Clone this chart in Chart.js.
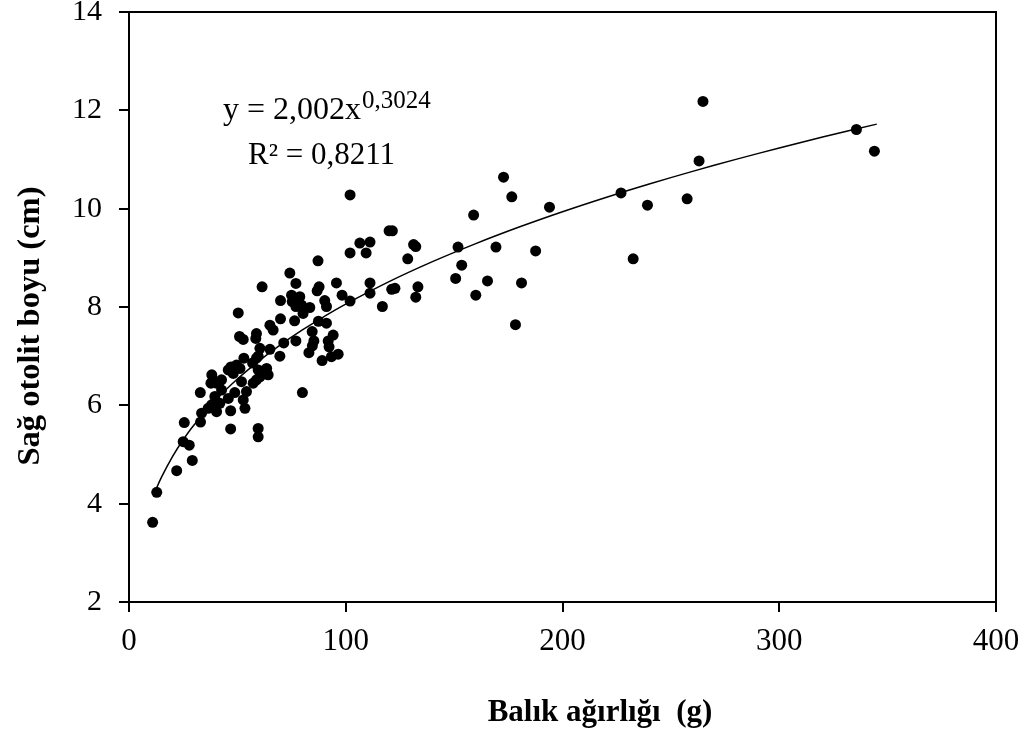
<!DOCTYPE html>
<html>
<head>
<meta charset="utf-8">
<script src="https://cdn.jsdelivr.net/npm/chart.js@4.4.1/dist/chart.umd.min.js"></script>
<style>
body { margin: 0; background: #fff; }
#wrap { width: 1026px; height: 739px; }
</style>
</head>
<body>
<div id="wrap"><canvas id="otolitChart"></canvas></div>
<script>
// balık ağırlığı (g) ve sağ otolit boyu (cm)
let weights = [10.9, 12.8, 22, 29.2, 25, 27.8, 25.5, 33, 33.5, 32.9,
	36.5, 38.1, 40.4, 39.6, 41.9, 38.2, 37.8, 40.4, 42.7, 38.8,
	42.7, 45.8, 49.6, 48.1, 51.2, 48.8, 51.9, 54.2, 52.7, 53.5,
	58.8, 59.6, 46.9, 46.9, 59.6, 59.6, 47, 45.8, 53, 57,
	63.5, 64.2, 60.4, 57.3, 80, 60.4, 59.6, 58.8, 65, 69.6,
	51, 52.7, 58.8, 58.5, 71.4, 50.4, 61.4, 65, 66.5, 69.9,
	76.4, 69.9, 74.2, 77, 75, 78.8, 75.3, 79.6, 77, 80.3,
	83.4, 90.3, 91.1, 87.2, 86.8, 87.7, 95.7, 98.3, 102, 102,
	102, 106.5, 111.2, 109.4, 120, 121.5, 131.3, 132.3, 128.6, 111.2,
	111.2, 121.2, 122.7, 133.3, 132.3, 116.9, 87.4, 91.1, 84.5, 77,
	85.3, 84.6, 94.2, 91.9, 92.3, 83, 96.5, 93.4, 89.1, 151.8,
	169.3, 187.6, 153.5, 150.7, 165.4, 181.1, 160, 178.3, 172.8, 176.6,
	159, 194, 227, 239.2, 257.5, 232.6, 263, 264.8, 335.6, 343.9];
let lengths = [3.62, 4.23, 4.67, 4.88, 5.26, 5.19, 5.65, 5.66, 5.84, 6.26,
	5.94, 6.01, 5.87, 6.18, 6.04, 6.62, 6.45, 6.45, 6.52, 6.52,
	6.31, 6.72, 6.82, 6.65, 6.75, 6.26, 6.48, 6.28, 6.11, 5.94,
	6.52, 6.72, 5.52, 5.89, 5.53, 5.36, 6.78, 6.14, 6.96, 6.86,
	6.75, 6.62, 6.58, 6.45, 6.26, 7.16, 7.00, 6.96, 7.14, 7.00,
	7.40, 7.34, 7.46, 7.36, 7.27, 7.88, 8.41, 7.63, 7.53, 7.76,
	7.72, 8.13, 8.69, 8.48, 8.24, 8.21, 8.11, 8.04, 8.01, 7.87,
	7.99, 8.13, 8.01, 8.94, 8.33, 8.41, 8.49, 8.24, 8.12, 10.28,
	9.10, 9.30, 9.32, 9.10, 9.55, 9.55, 9.27, 9.23, 8.98, 8.49,
	8.28, 8.36, 8.38, 8.41, 8.20, 8.01, 7.71, 7.67, 7.50, 7.31,
	7.31, 7.21, 7.43, 7.31, 7.19, 7.07, 7.04, 6.99, 6.91, 9.22,
	9.22, 9.14, 8.85, 8.58, 8.53, 8.49, 8.24, 7.64, 10.64, 10.24,
	9.87, 10.03, 10.32, 10.07, 10.20, 8.98, 10.97, 12.18, 11.61, 11.17];

let xTicks = [0, 100, 200, 300, 400];
let yTicks = [2, 4, 6, 8, 10, 12, 14];

// üs eğrisi: y = 2,002 x^0,3024
let fitA = 2.002;
let fitB = 0.3024;
let fitX = [12, 15, 20, 25, 30, 40, 50, 60, 70, 80, 90, 100, 120, 140, 160,
	180, 200, 220, 240, 260, 280, 300, 320, 345];

let serif = 'Liberation Serif';

var points = weights.map(function (w, i) { return { x: w, y: lengths[i] }; });
var curve = fitX.map(function (x) { return { x: x, y: fitA * Math.pow(x, fitB) }; });

var textPlugin = {
	id: 'frameAndText',
	afterDraw: function (chart) {
		var c = chart.ctx, a = chart.chartArea;
		c.save();
		c.strokeStyle = '#000';
		c.lineWidth = 2;
		c.strokeRect(a.left, a.top, a.right - a.left, a.bottom - a.top);

		c.fillStyle = '#000';
		c.textBaseline = 'alphabetic';
		c.textAlign = 'left';
		c.font = '32px "' + serif + '"';
		var t1 = 'y = 2,002x';
		c.fillText(t1, 223, 119);
		var w1 = c.measureText(t1).width;
		c.font = '25px "' + serif + '"';
		c.fillText('0,3024', 223 + w1 + 1, 108);
		c.font = '31px "' + serif + '"';
		c.fillText('R² = 0,8211', 248, 164);

		c.font = 'bold 31px "' + serif + '"';
		c.textAlign = 'center';
		c.textBaseline = 'middle';
		c.fillText('Balık ağırlığı  (g)', 600, 713);

		c.font = 'bold 32.5px "' + serif + '"';
		c.translate(31, 326);
		c.rotate(-Math.PI / 2);
		c.fillText('Sağ otolit boyu (cm)', 0, 0);
		c.restore();
	}
};

var ctx = document.getElementById('otolitChart').getContext('2d');
var otolitChart = new Chart(ctx, {
	type: 'scatter',
	data: {
		datasets: [
			{
				label: 'Sağ otolit',
				data: points,
				backgroundColor: '#000',
				borderWidth: 0,
				pointRadius: 5.5,
				pointHoverRadius: 5.5
			},
			{
				label: 'Üs eğrisi',
				data: curve,
				type: 'line',
				borderColor: '#000',
				borderWidth: 1.5,
				pointRadius: 0,
				fill: false,
				tension: 0.4
			}
		]
	},
	options: {
		responsive: true,
		maintainAspectRatio: false,
		animation: false,
		layout: { padding: { left: 0, right: 30, top: 12, bottom: 0 } },
		plugins: {
			legend: { display: false },
			tooltip: { enabled: false }
		},
		scales: {
			x: {
				type: 'linear',
				min: 0,
				max: 400,
				afterBuildTicks: function (s) { s.ticks = xTicks.map(function (v) { return { value: v }; }); },
				afterFit: function (s) { s.height = 137; s.paddingLeft = 0; s.paddingRight = 0; },
				ticks: { color: '#000', font: { family: serif, size: 31 }, padding: 11, maxRotation: 0 },
				grid: { drawOnChartArea: false, drawTicks: true, tickLength: 10, color: '#000', lineWidth: 2 },
				border: { color: '#000', width: 2 }
			},
			y: {
				type: 'linear',
				min: 2,
				max: 14,
				afterBuildTicks: function (s) { s.ticks = yTicks.map(function (v) { return { value: v }; }); },
				afterFit: function (s) { s.width = 129; s.paddingTop = 0; s.paddingBottom = 0; },
				ticks: { color: '#000', font: { family: serif, size: 30 }, padding: 17 },
				grid: { drawOnChartArea: false, drawTicks: true, tickLength: 10, color: '#000', lineWidth: 2 },
				border: { color: '#000', width: 2 }
			}
		}
	},
	plugins: [textPlugin]
});

function resizeChart() {
	otolitChart.resize();
}

window.addEventListener('resize', resizeChart);
</script>
</body>
</html>
